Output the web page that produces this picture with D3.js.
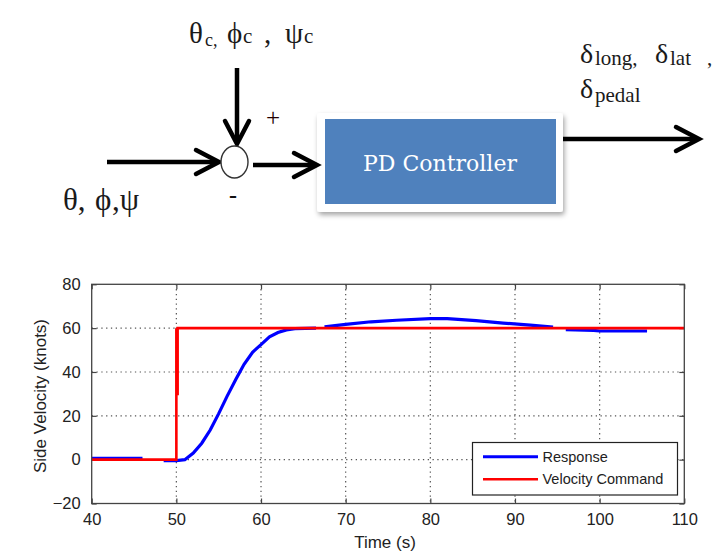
<!DOCTYPE html>
<html><head><meta charset="utf-8">
<script src="https://cdn.jsdelivr.net/npm/d3@7/dist/d3.min.js"></script>
<style>
html,body{margin:0;padding:0;background:#fff;}
svg{display:block;}
</style></head>
<body>
<svg id="c" width="720" height="558"></svg>
<script>
// ---------- data ----------
const xTicks = [40, 50, 60, 70, 80, 90, 100, 110];
const yTicks = [-20, 0, 20, 40, 60, 80];
const seriesNames = ["Response", "Velocity Command"];
// Response (blue); null marks a break in the drawn line
const responseTime  = [40, 46, null, 48.5, 50, 51, 52, 53, 54, 55, 56, 57, 58, 59, 60, 61, 62, 63, 64, 66.5, null,
                       67.5, 70, 73, 76, 80, 82, 85.4, 88.6, 91.8, 94.5, null, 96, 99.3, 100, 105.6];
const responseValue = [0.6, 0.6, null, -0.4, -0.4, 0, 3, 7.5, 13.5, 21, 29, 36.5, 43.5, 49, 52.5, 56, 58, 59.2, 59.8, 60, null,
                       60.6, 61.7, 62.9, 63.6, 64.3, 64.3, 63.4, 62.3, 61.4, 60.5, null, 59.3, 59, 58.7, 58.7];
// Velocity command (red)
const commandTime  = [40, 50, 50, 50, 50.15, 50.15, 110];
const commandValue = [0, 0, 60, 30, 30, 60, 60];

const svg = d3.select("#c");

// ---------- block diagram ----------
const defs = svg.append("defs");
const f = defs.append("filter").attr("id","sh").attr("x","-10%").attr("y","-10%").attr("width","130%").attr("height","140%");
f.append("feDropShadow").attr("dx",1.5).attr("dy",3).attr("stdDeviation",2.5).attr("flood-color","#000").attr("flood-opacity",0.35);

const dg = svg.append("g");
dg.append("rect").attr("x",317).attr("y",113).attr("width",246).attr("height",99).attr("rx",3)
  .attr("fill","#fff").attr("filter","url(#sh)");
dg.append("rect").attr("x",325).attr("y",119).attr("width",231).attr("height",85).attr("fill","#4F81BD");
dg.append("text").attr("x",440).attr("y",171).attr("text-anchor","middle")
  .attr("font-family","'DejaVu Serif', serif").attr("font-size",22).attr("fill","#fff").text("PD Controller");

function arrow(x1,y1,x2,y2){
  const ang = Math.atan2(y2-y1,x2-x1), L=23, W=12;
  dg.append("line").attr("x1",x1).attr("y1",y1).attr("x2",x2-Math.cos(ang)*3).attr("y2",y2-Math.sin(ang)*3)
    .attr("stroke","#000").attr("stroke-width",4.5);
  const bx = x2-Math.cos(ang)*L, by = y2-Math.sin(ang)*L;
  const px = -Math.sin(ang)*W, py = Math.cos(ang)*W;
  dg.append("polyline").attr("points",`${bx+px},${by+py} ${x2},${y2} ${bx-px},${by-py}`)
    .attr("fill","none").attr("stroke","#000").attr("stroke-width",4.5).attr("stroke-linejoin","miter").attr("stroke-linecap","round");
}
arrow(107,162,219,162);
arrow(237,68,237,144);
arrow(253,165,317,165);
arrow(563,139,699,139);

dg.append("ellipse").attr("cx",234.5).attr("cy",162).attr("rx",13.5).attr("ry",16)
  .attr("fill","#fff").attr("stroke","#333").attr("stroke-width",1.4);

const serif = "'Liberation Serif','Times New Roman',serif";
function pieces(parts, size){
  const t = dg.append("text").attr("font-family",serif).attr("font-size",size).attr("fill","#1a1a1a");
  parts.forEach(p=>{
    const s = t.append("tspan").attr("x",p[0]).attr("y",p[1]).text(p[2]);
    if (p[3]) s.attr("font-size",p[3]);
  });
}
pieces([[189,43,"θ"],[205,46,"c,",18],[227,43,"ϕ"],[243,43,"c",21],[264,43,","],[285,43,"ψ"],[304,43,"c",21]], 29);
pieces([[63,210,"θ,"],[95,210,"ϕ"],[112,210,",ψ"]], 31);
pieces([[580,63,"δ"],[595,65,"long,",21],[655,63,"δ"],[670,65,"lat",21],[707,65,",",21]], 28);
pieces([[580,98,"δ"],[595,102,"pedal",21]], 28);

dg.append("text").attr("x",273).attr("y",126).attr("text-anchor","middle").attr("font-family",serif)
  .attr("font-size",25).attr("fill","#200").text("+");
dg.append("text").attr("x",233).attr("y",203).attr("text-anchor","middle").attr("font-family",serif)
  .attr("font-size",24).attr("font-weight","bold").attr("fill","#111").text("-");

// ---------- chart ----------
const L = 91.7, R = 684.3, T = 284.3, B = 503.5;
const x = d3.scaleLinear().domain([40,110]).range([L,R]);
const y = d3.scaleLinear().domain([-20,80]).range([B,T]);
const cg = svg.append("g");
cg.append("rect").attr("x",L).attr("y",T).attr("width",R-L).attr("height",B-T).attr("fill","#fff");

// grid
cg.append("g").selectAll("line").data(xTicks.slice(1,-1)).join("line")
  .attr("x1",d=>x(d)).attr("x2",d=>x(d)).attr("y1",T).attr("y2",B)
  .attr("stroke","#555").attr("stroke-width",1.2).attr("stroke-dasharray","1.3,3.5");
cg.append("g").selectAll("line").data(yTicks.slice(1,-1)).join("line")
  .attr("x1",L).attr("x2",R).attr("y1",d=>y(d)).attr("y2",d=>y(d))
  .attr("stroke","#555").attr("stroke-width",1.2).attr("stroke-dasharray","1.3,3.5");

// axes via d3 axis
const axFont = "'Liberation Sans', Arial, sans-serif";
function styleAxis(g){
  g.select(".domain").remove();
  g.selectAll(".tick line").attr("stroke","#444").attr("stroke-width",1.2);
  g.selectAll(".tick text").attr("fill","#222").attr("font-family",axFont).attr("font-size",16.5);
}
cg.append("g").attr("transform",`translate(0,${B})`)
  .call(d3.axisBottom(x).tickValues(xTicks).tickSizeInner(-5).tickSizeOuter(0).tickPadding(10).tickFormat(d3.format("d")))
  .call(styleAxis);
cg.append("g").attr("transform",`translate(0,${T})`)
  .call(d3.axisTop(x).tickValues(xTicks).tickSizeInner(-5).tickSizeOuter(0).tickFormat(""))
  .call(styleAxis);
cg.append("g").attr("transform",`translate(${L},0)`)
  .call(d3.axisLeft(y).tickValues(yTicks).tickSizeInner(-5).tickSizeOuter(0).tickPadding(11).tickFormat(d3.format("d")))
  .call(styleAxis);
cg.append("g").attr("transform",`translate(${R},0)`)
  .call(d3.axisRight(y).tickValues(yTicks).tickSizeInner(-5).tickSizeOuter(0).tickFormat(""))
  .call(styleAxis);

// series
const resp = responseTime.map((t,i)=>({t, v: responseValue[i]}));
const cmd = commandTime.map((t,i)=>({t, v: commandValue[i]}));
const line = d3.line().defined(d=>d.t!==null && d.v!==null).x(d=>x(d.t)).y(d=>y(d.v));
cg.append("path").datum(resp).attr("d",line).attr("fill","none").attr("stroke","#0000ff").attr("stroke-width",3.2);
cg.append("path").datum(cmd).attr("d",line).attr("fill","none").attr("stroke","#ff0000").attr("stroke-width",2.6);

// box
cg.append("rect").attr("x",L).attr("y",T).attr("width",R-L).attr("height",B-T)
  .attr("fill","none").attr("stroke","#444").attr("stroke-width",1.3);

// titles
cg.append("text").attr("x",385).attr("y",548).attr("text-anchor","middle").attr("font-family",axFont)
  .attr("font-size",17).attr("fill","#222").text("Time (s)");
cg.append("text").attr("transform",`translate(46,396) rotate(-90)`).attr("text-anchor","middle").attr("font-family",axFont)
  .attr("font-size",17).attr("fill","#222").text("Side Velocity (knots)");

// legend
const lg = cg.append("g");
lg.append("rect").attr("x",472.5).attr("y",442.5).attr("width",205).attr("height",52.5)
  .attr("fill","#fff").attr("stroke","#222").attr("stroke-width",1.2);
const colors = ["#0000ff","#ff0000"];
const ly = [456.7, 479.3];
seriesNames.forEach((n,i)=>{
  lg.append("line").attr("x1",483).attr("x2",538).attr("y1",ly[i]).attr("y2",ly[i])
    .attr("stroke",colors[i]).attr("stroke-width",i===0?3:2.6);
  lg.append("text").attr("x",542.5).attr("y",ly[i]+5).attr("font-family",axFont)
    .attr("font-size",14.5).attr("fill","#222").text(n);
});
</script>
</body></html>
